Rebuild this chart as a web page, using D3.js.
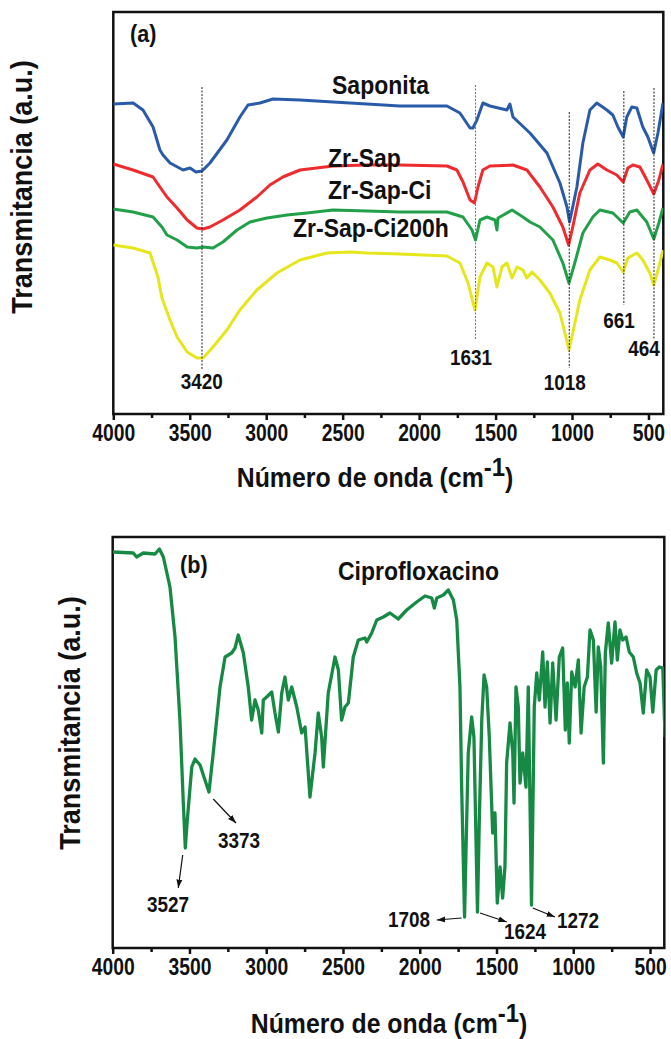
<!DOCTYPE html>
<html>
<head>
<meta charset="utf-8">
<script src="https://cdn.jsdelivr.net/npm/d3@7"></script>
<style>
  body { margin: 0; background: #fff; }
  text { font-family: "Liberation Sans", Arial, sans-serif; font-weight: bold; fill: #111; }
</style>
</head>
<body>
<svg id="chart" width="671" height="1039"></svg>
<script>
// wavenumber (cm-1), transmittance (a.u., offset per curve)
const saponita = [[4000,310],[3870,311],[3806,304],[3740,287],[3695,264],[3675,259],[3629,251],[3544,244],[3498,246],[3460,242],[3420,243],[3400,246],[3368,251],[3257,274],[3172,297],[3119,309],[3041,311],[2956,315],[2779,314],[2563,312],[2341,310],[2126,308],[1818,308],[1733,301],[1667,286],[1648,286],[1622,294],[1583,311],[1537,308],[1426,304],[1406,310],[1386,297],[1275,281],[1164,261],[1079,231],[1033,207],[1016,192],[968,227],[929,271],[883,304],[838,311],[772,304],[733,299],[700,287],[665,277],[642,297],[609,307],[576,306],[537,287],[504,277],[466,261],[438,281],[405,311]];
const zrSap = [[4000,250],[3871,244],[3740,237],[3695,227],[3649,217],[3583,206],[3517,194],[3453,186],[3413,185],[3368,187],[3283,194],[3172,204],[3061,217],[2976,229],[2891,237],[2779,244],[2563,248],[2341,249],[2126,249],[1818,248],[1753,244],[1713,232],[1667,214],[1638,211],[1615,227],[1583,244],[1537,248],[1386,249],[1295,244],[1210,227],[1125,207],[1060,187],[1022,169],[995,187],[949,221],[883,244],[831,250],[772,244],[707,239],[665,232],[635,246],[602,249],[556,247],[511,234],[465,220],[432,234],[405,250]];
const zrSapCi = [[4000,205],[3871,202],[3740,197],[3682,187],[3649,179],[3583,174],[3517,167],[3453,166],[3413,167],[3348,166],[3283,172],[3191,184],[3106,192],[2995,196],[2864,199],[2734,201],[2563,204],[2341,203],[2126,202],[1818,202],[1713,197],[1654,184],[1631,174],[1602,194],[1556,197],[1504,194],[1491,184],[1484,196],[1392,204],[1321,197],[1275,192],[1210,187],[1125,174],[1060,151],[1020,131],[982,151],[929,181],[864,197],[818,204],[733,201],[665,191],[622,202],[576,204],[511,192],[465,175],[432,191],[405,206]];
const zrSapCi200h = [[4000,169],[3871,166],[3760,161],[3708,137],[3682,116],[3629,94],[3583,77],[3517,62],[3453,56],[3413,56],[3348,67],[3257,84],[3172,104],[3061,124],[2930,141],[2779,154],[2603,161],[2452,162],[2341,161],[2126,160],[1818,158],[1733,151],[1680,131],[1635,104],[1602,137],[1556,151],[1517,147],[1491,127],[1458,147],[1426,151],[1392,136],[1360,147],[1321,144],[1295,136],[1262,142],[1210,134],[1145,121],[1079,101],[1040,77],[1020,64],[995,81],[949,114],[883,144],[818,157],[753,154],[707,151],[665,142],[635,156],[576,161],[537,154],[491,141],[465,129],[432,147],[405,164]];
const cipro = [[4000,396],[3866,395],[3844,391],[3801,395],[3724,394],[3696,399],[3670,391],[3627,361],[3594,311],[3562,228],[3540,145],[3527,100],[3514,128],[3485,181],[3464,189],[3431,183],[3399,168],[3373,156],[3345,195],[3301,261],[3268,291],[3225,295],[3203,300],[3182,313],[3149,295],[3117,261],[3095,228],[3073,248],[3052,238],[3029,215],[3019,248],[2997,251],[2964,256],[2943,235],[2921,216],[2899,255],[2878,271],[2856,248],[2834,261],[2801,241],[2769,215],[2747,221],[2715,151],[2682,195],[2661,235],[2639,211],[2628,181],[2596,255],[2552,291],[2530,278],[2509,228],[2487,241],[2465,245],[2433,291],[2400,308],[2357,310],[2345,306],[2313,315],[2280,328],[2237,331],[2194,335],[2140,329],[2085,338],[2020,346],[1966,352],[1922,350],[1905,340],[1889,350],[1846,353],[1814,358],[1781,348],[1759,328],[1738,261],[1727,161],[1708,31],[1699,95],[1684,195],[1662,231],[1647,211],[1624,36],[1612,128],[1596,228],[1581,273],[1564,261],[1547,211],[1525,115],[1510,135],[1495,45],[1477,81],[1460,50],[1445,81],[1434,185],[1412,225],[1394,195],[1386,145],[1373,261],[1358,241],[1347,165],[1329,195],[1308,161],[1293,261],[1272,43],[1264,128],[1254,241],[1238,275],[1221,248],[1199,296],[1184,241],[1169,286],[1151,225],[1134,285],[1112,228],[1091,291],[1069,300],[1052,218],[1039,265],[1026,205],[1010,276],[988,261],[967,288],[949,215],[929,261],[908,271],[891,318],[869,308],[851,236],[837,301],[821,281],[804,185],[791,295],[772,325],[750,285],[728,326],[713,288],[696,318],[678,308],[656,311],[635,296],[609,291],[587,275],[565,265],[544,235],[522,278],[500,271],[482,236],[460,278],[439,281],[417,280],[402,211]];

const majorTicks = [4000, 3500, 3000, 2500, 2000, 1500, 1000, 500];
const minorTicks = [3750, 3250, 2750, 2250, 1750, 1250, 750];

const seriesA = ['Saponita', 'Zr-Sap', 'Zr-Sap-Ci', 'Zr-Sap-Ci200h'];
const peaksA = [3420, 1631, 1018, 661, 464];
const peaksB = [3527, 3373, 1708, 1624, 1272];

const svg = d3.select('#chart');
const FONT = '"Liberation Sans", Arial, sans-serif';

const defs = svg.append('defs');
defs.append('marker')
    .attr('id', 'arr')
    .attr('viewBox', '0 0 10 10')
    .attr('refX', 10).attr('refY', 5)
    .attr('markerWidth', 7).attr('markerHeight', 7)
    .attr('orient', 'auto')
    .append('path').attr('d', 'M0,1.5L10,5L0,8.5Z').attr('fill', '#111');

// condensed bold text, like the narrow font of the original
function txt(g, x, y, s, size, anchor, sx) {
    return g.append('text')
        .attr('transform', `translate(${x},${y}) scale(${sx || 0.9},1)`)
        .attr('text-anchor', anchor || 'start')
        .attr('font-size', size)
        .text(s);
}

function panel(p) {
    const x = d3.scaleLinear().domain(p.xDomain).range([p.left, p.right]);
    const y = d3.scaleLinear().domain([0, p.bottom - p.top]).range([p.bottom, p.top]);
    const g = svg.append('g');

    defs.append('clipPath').attr('id', p.id)
        .append('rect')
        .attr('x', p.left).attr('y', p.top)
        .attr('width', p.right - p.left).attr('height', p.bottom - p.top);

    g.append('g').attr('transform', `translate(0,${p.bottom})`)
        .call(d3.axisBottom(x).tickValues(minorTicks).tickSize(4).tickFormat(''))
        .call(a => a.select('.domain').remove())
        .call(a => a.selectAll('line').attr('stroke', '#111').attr('stroke-width', 2.5));

    g.append('g').attr('transform', `translate(0,${p.bottom})`)
        .call(d3.axisBottom(x).tickValues(majorTicks).tickSize(6).tickPadding(5).tickFormat(d3.format('d')))
        .call(a => a.select('.domain').remove())
        .call(a => a.selectAll('line').attr('stroke', '#111').attr('stroke-width', 2.5))
        .call(a => a.selectAll('text')
            .attr('font-size', 23).attr('font-weight', 'bold').attr('font-family', FONT)
            .attr('fill', '#111').attr('transform', 'scale(0.84,1)'));

    g.append('rect')
        .attr('x', p.left).attr('y', p.top)
        .attr('width', p.right - p.left).attr('height', p.bottom - p.top)
        .attr('fill', 'none').attr('stroke', '#111').attr('stroke-width', 2.5);

    // x title with superscript
    const t = g.append('text')
        .attr('transform', `translate(${p.titleX},${p.titleY}) scale(0.92,1)`)
        .attr('text-anchor', 'middle').attr('font-size', 27);
    t.append('tspan').text('Número de onda (cm');
    t.append('tspan').attr('dy', -11).attr('font-size', 26).text('-1');
    t.append('tspan').attr('dy', 11).text(')');

    // y title
    g.append('text')
        .attr('transform', `translate(${p.yTitleX},${p.yTitleY}) rotate(-90) scale(0.93,1)`)
        .attr('text-anchor', 'middle').attr('font-size', 29)
        .text('Transmitancia (a.u.)');

    return { x, y, g };
}

const line = (x, y) => d3.line().x(d => x(d[0])).y(d => y(d[1]));

// ---------- panel (a)
const A = panel({ id: 'clipA', left: 113.3, right: 663.3, top: 12, bottom: 414, xDomain: [4000, 403],
    titleX: 375, titleY: 487, yTitleX: 32, yTitleY: 187 });

const curvesA = [saponita, zrSap, zrSapCi, zrSapCi200h];
const colorsA = ['#2a5ba9', '#ee2b2f', '#22a049', '#e6e61c'];

A.g.append('g').attr('clip-path', 'url(#clipA)')
    .selectAll('path')
    .data(curvesA)
    .join('path')
    .attr('d', line(A.x, A.y))
    .attr('fill', 'none')
    .attr('stroke', (d, i) => colorsA[i])
    .attr('stroke-width', 3)
    .attr('stroke-linejoin', 'round');

// dotted guide lines: [top, bottom] in a.u., label position
const guideA = [
    { top: 327, bottom: 44, lx: 3422, ly: 25, color: '#222' },
    { top: 329, bottom: 74, lx: 1661, ly: 49, color: '#b23cc0' },
    { top: 302, bottom: 46, lx: 1047, ly: 24, color: '#222' },
    { top: 323, bottom: 109, lx: 693, ly: 86, color: '#222' },
    { top: 326, bottom: 74, lx: 529, ly: 58, color: '#222' }
];
peaksA.forEach((pk, i) => {
    const gd = guideA[i];
    A.g.append('line')
        .attr('x1', A.x(pk)).attr('x2', A.x(pk))
        .attr('y1', A.y(gd.top)).attr('y2', A.y(gd.bottom))
        .attr('stroke', gd.color).attr('stroke-width', 1)
        .attr('stroke-dasharray', '2,1.5');
    txt(A.g, A.x(gd.lx), A.y(gd.ly), String(pk), 22, 'middle', 0.86);
});

const labelPosA = [[332, 94], [328, 166.5], [328, 198.5], [293, 236.5]];
seriesA.forEach((s, i) => txt(A.g, labelPosA[i][0], labelPosA[i][1], s, 25, 'start', 0.92));
txt(A.g, 130, 42, '(a)', 24, 'start', 0.9);

// ---------- panel (b)
const B = panel({ id: 'clipB', left: 112.7, right: 664.3, top: 537, bottom: 948, xDomain: [4000, 407],
    titleX: 389, titleY: 1033, yTitleX: 80, yTitleY: 723 });

B.g.append('path')
    .datum(cipro)
    .attr('clip-path', 'url(#clipB)')
    .attr('d', line(B.x, B.y))
    .attr('fill', 'none')
    .attr('stroke', '#168a44')
    .attr('stroke-width', 3.3)
    .attr('stroke-linejoin', 'round');

// arrows: from / to / label position, in data units
const arrowB = [
    { from: [3544, 93], to: [3573, 60], label: [3640, 36] },
    { from: [3345, 149], to: [3197, 125], label: [3177, 100] },
    { from: [1727, 30], to: [1889, 28], label: [2070, 21] },
    { from: [1607, 35], to: [1433, 26], label: [1315, 9] },
    { from: [1264, 40], to: [1119, 31], label: [969, 20] }
];
peaksB.forEach((pk, i) => {
    const a = arrowB[i];
    B.g.append('line')
        .attr('x1', B.x(a.from[0])).attr('y1', B.y(a.from[1]))
        .attr('x2', B.x(a.to[0])).attr('y2', B.y(a.to[1]))
        .attr('stroke', '#111').attr('stroke-width', 1.2)
        .attr('marker-end', 'url(#arr)');
    txt(B.g, B.x(a.label[0]), B.y(a.label[1]), String(pk), 22, 'middle', 0.86);
});

txt(B.g, 338, 580, 'Ciprofloxacino', 25, 'start', 0.92);
txt(B.g, 180, 573, '(b)', 24, 'start', 0.9);
</script>
</body>
</html>
